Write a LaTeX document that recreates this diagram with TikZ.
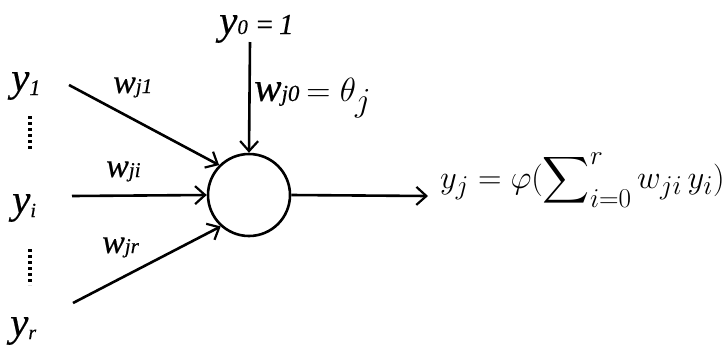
\documentclass[tikz,border=0pt]{standalone}
\usepackage{fontspec}
\usepackage{amsmath}
\usepackage{graphicx}
\usetikzlibrary{arrows.meta}
\newfontfamily\tms{Liberation Serif}[ItalicFeatures={FakeBold=0.4}]
\newcommand{\sbs}[3]{\raisebox{#2}{\fontsize{#1}{#1}\selectfont #3}}
\begin{document}
\begin{tikzpicture}[x=1pt,y=-1pt,
  arr/.style={-{Straight Barb[length=10pt,width=18pt,line width=2.2pt]}, line width=2.6pt},
  ylab/.style={font=\tms\itshape\fontsize{41}{41}\selectfont, inner sep=0pt, anchor=base west},
  wlab/.style={font=\tms\itshape\fontsize{34}{34}\selectfont, inner sep=0pt, anchor=base west},
  dotline/.style={line width=3.4pt, dash pattern=on 3.4pt off 2.6pt}]
\useasboundingbox (0,0) rectangle (725,349);
\node[circle,draw,line width=2.6pt,minimum size=82pt,inner sep=0pt] (n) at (249,195) {};
% inputs
\node[ylab] (y1) at (11,91) {y\sbs{22}{-4pt}{1}};
\node[ylab] (yi) at (12,213) {y\sbs{20}{-4pt}{i}};
\node[ylab] (yr) at (10,336) {y\sbs{20}{-3pt}{r}};
\node[ylab] (y0) at (219,34) {y\sbs{21}{0pt}{0}\,\fontsize{29}{29}\selectfont=\,1};
\coordinate (s1) at (69,85);
\coordinate (si) at (72,196);
\coordinate (sr) at (73,303);
\coordinate (s0) at (250,42);
\coordinate (out) at (428,196);
\draw[arr] (s1) -- (n.135);
\draw[arr] (si) -- (n.west);
\draw[arr] (sr) -- (n.228);
\draw[arr] (s0) -- (n.north);
\draw[arr] (n.east) -- (out);
% weights
\node[wlab] (w1) at (113,93) {w\sbs{21}{0pt}{j1}};
\node[wlab] (wi) at (106,177) {w\sbs{21}{0pt}{ji}};
\node[wlab] (wr) at (102,253) {w\sbs{21}{0pt}{jr}};
\node[wlab, font=\tms\itshape\fontsize{41}{41}\selectfont] (w0) at (254,101)
  {w\sbs{23}{0pt}{j0}\,\scalebox{1.35}{$=\theta_j$}};
% dots
\draw[dotline] (30,116) -- (30,151);
\draw[dotline] (30,249) -- (30,285);
% output formula
\node[anchor=base west, inner sep=0pt] (f) at (440,188)
  {\scalebox{1.31}{\fontsize{24.88}{25}\selectfont$y_j=\varphi(\displaystyle\sum\nolimits_{i=0}^{r} w_{ji}\,y_i)$}};
\end{tikzpicture}
\end{document}
